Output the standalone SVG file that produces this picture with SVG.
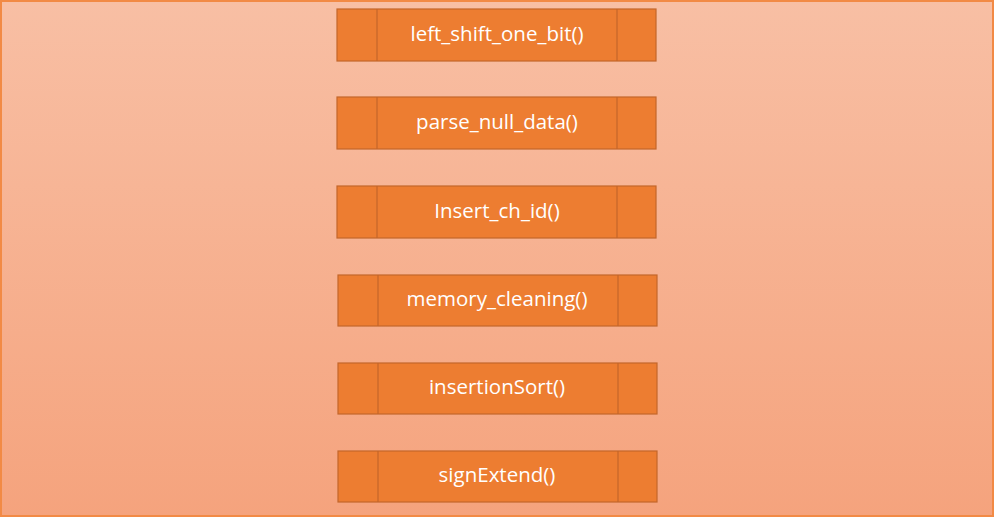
<svg xmlns="http://www.w3.org/2000/svg" width="997" height="522" viewBox="0 0 997 522">
<defs>
<linearGradient id="bg" x1="0" y1="0" x2="0" y2="1">
<stop offset="0" stop-color="#F8BFA4"/>
<stop offset="1" stop-color="#F5A37D"/>
</linearGradient>
</defs>
<style>
.box{fill:#ED7D31;stroke:#C4662A;stroke-width:1.2}
.div{stroke:#C4662A;stroke-width:1.2}
.lbl{font-family:"Open Sans","Liberation Sans",sans-serif;font-size:20.5px;fill:#FFFFFF;text-anchor:middle;dominant-baseline:central}
</style>
<rect x="1" y="1" width="992" height="515" fill="url(#bg)" stroke="#F28A45" stroke-width="2"/>
<g id="n1"><rect class="box" x="337" y="9" width="319" height="52"/><line class="div" x1="377" y1="9" x2="377" y2="61"/><line class="div" x1="617" y1="9" x2="617" y2="61"/><text class="lbl" x="497" y="33">left_shift_one_bit()</text></g>
<g id="n2"><rect class="box" x="337" y="97" width="319" height="52"/><line class="div" x1="377" y1="97" x2="377" y2="149"/><line class="div" x1="617" y1="97" x2="617" y2="149"/><text class="lbl" x="497" y="121">parse_null_data()</text></g>
<g id="n3"><rect class="box" x="337" y="186" width="319" height="52"/><line class="div" x1="377" y1="186" x2="377" y2="238"/><line class="div" x1="617" y1="186" x2="617" y2="238"/><text class="lbl" x="497" y="210">Insert_ch_id()</text></g>
<g id="n4"><rect class="box" x="338" y="275" width="319" height="51"/><line class="div" x1="378" y1="275" x2="378" y2="326"/><line class="div" x1="618" y1="275" x2="618" y2="326"/><text class="lbl" x="497" y="298">memory_cleaning()</text></g>
<g id="n5"><rect class="box" x="338" y="363" width="319" height="51"/><line class="div" x1="378" y1="363" x2="378" y2="414"/><line class="div" x1="618" y1="363" x2="618" y2="414"/><text class="lbl" x="497" y="386">insertionSort()</text></g>
<g id="n6"><rect class="box" x="338" y="451" width="319" height="51"/><line class="div" x1="378" y1="451" x2="378" y2="502"/><line class="div" x1="618" y1="451" x2="618" y2="502"/><text class="lbl" x="497" y="474">signExtend()</text></g>
<g id="connectors"></g>
</svg>
